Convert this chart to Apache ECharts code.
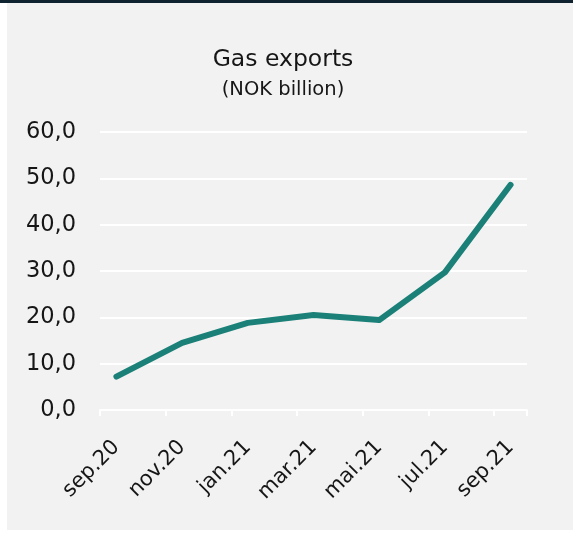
<!DOCTYPE html>
<html>
<head>
<meta charset="utf-8">
<script src="https://cdn.jsdelivr.net/npm/echarts@6/dist/echarts.min.js"></script>
<style>
  html, body { margin: 0; padding: 0; background: #ffffff; }
  #wrap { position: relative; width: 573px; height: 534px; overflow: hidden; }
  #topbar { position: absolute; left: 0; top: 0; width: 573px; height: 3px; background: #0e2230; }
  #panel { position: absolute; left: 7px; top: 3px; width: 566px; height: 527px; background: #f2f2f2; }
  #chart { position: absolute; left: 0; top: 0; width: 573px; height: 534px; }
</style>
</head>
<body>
<div id="wrap">
  <div id="topbar"></div>
  <div id="panel"></div>
  <div id="chart"></div>
</div>
<script>
// Monthly slots; values reported every second month (others left empty)
const months = ['sep.20', 'okt.20', 'nov.20', 'des.20', 'jan.21', 'feb.21', 'mar.21',
                'apr.21', 'mai.21', 'jun.21', 'jul.21', 'aug.21', 'sep.21'];
const gasExports = [7.2, null, 14.5, null, 18.8, null, 20.5, null, 19.4, null, 29.7, null, 48.6];
const yTicks = { min: 0, max: 60, step: 10 };

const FONT = 'DejaVu Sans';
const TEXT = '#161616';

const chart = echarts.init(document.getElementById('chart'), null, { renderer: 'canvas' });
chart.setOption({
  backgroundColor: 'transparent',
  animation: false,
  title: {
    text: 'Gas exports',
    subtext: '(NOK billion)',
    left: 278,
    top: 43,
    textAlign: 'center',
    itemGap: 8,
    textStyle: { fontFamily: FONT, fontSize: 23.5, fontWeight: 'normal', color: TEXT },
    subtextStyle: { fontFamily: FONT, fontSize: 19.5, color: TEXT }
  },
  grid: { left: 100, right: 46, top: 132, bottom: 124, containLabel: false },
  xAxis: {
    type: 'category',
    data: months,
    boundaryGap: true,
    axisLine: { show: true, lineStyle: { color: '#ffffff', width: 2 } },
    axisTick: { show: true, interval: 1, length: 6, lineStyle: { color: '#ffffff', width: 2 } },
    axisLabel: {
      interval: 1,
      rotate: 45,
      margin: 34,
      fontFamily: FONT,
      fontSize: 21,
      color: TEXT
    },
    splitLine: { show: false }
  },
  yAxis: {
    type: 'value',
    min: yTicks.min,
    max: yTicks.max,
    interval: yTicks.step,
    axisLine: { show: false },
    axisTick: { show: false },
    axisLabel: {
      margin: 24,
      fontFamily: FONT,
      fontSize: 22.5,
      color: TEXT,
      formatter: v => v.toFixed(1).replace('.', ',')
    },
    splitLine: { show: true, lineStyle: { color: '#ffffff', width: 2 } }
  },
  series: [{
    type: 'line',
    data: gasExports,
    connectNulls: true,
    showSymbol: false,
    symbol: 'none',
    lineStyle: { color: '#1b8078', width: 6, cap: 'round', join: 'round' },
    itemStyle: { color: '#1b8078' }
  }]
});
</script>
</body>
</html>
